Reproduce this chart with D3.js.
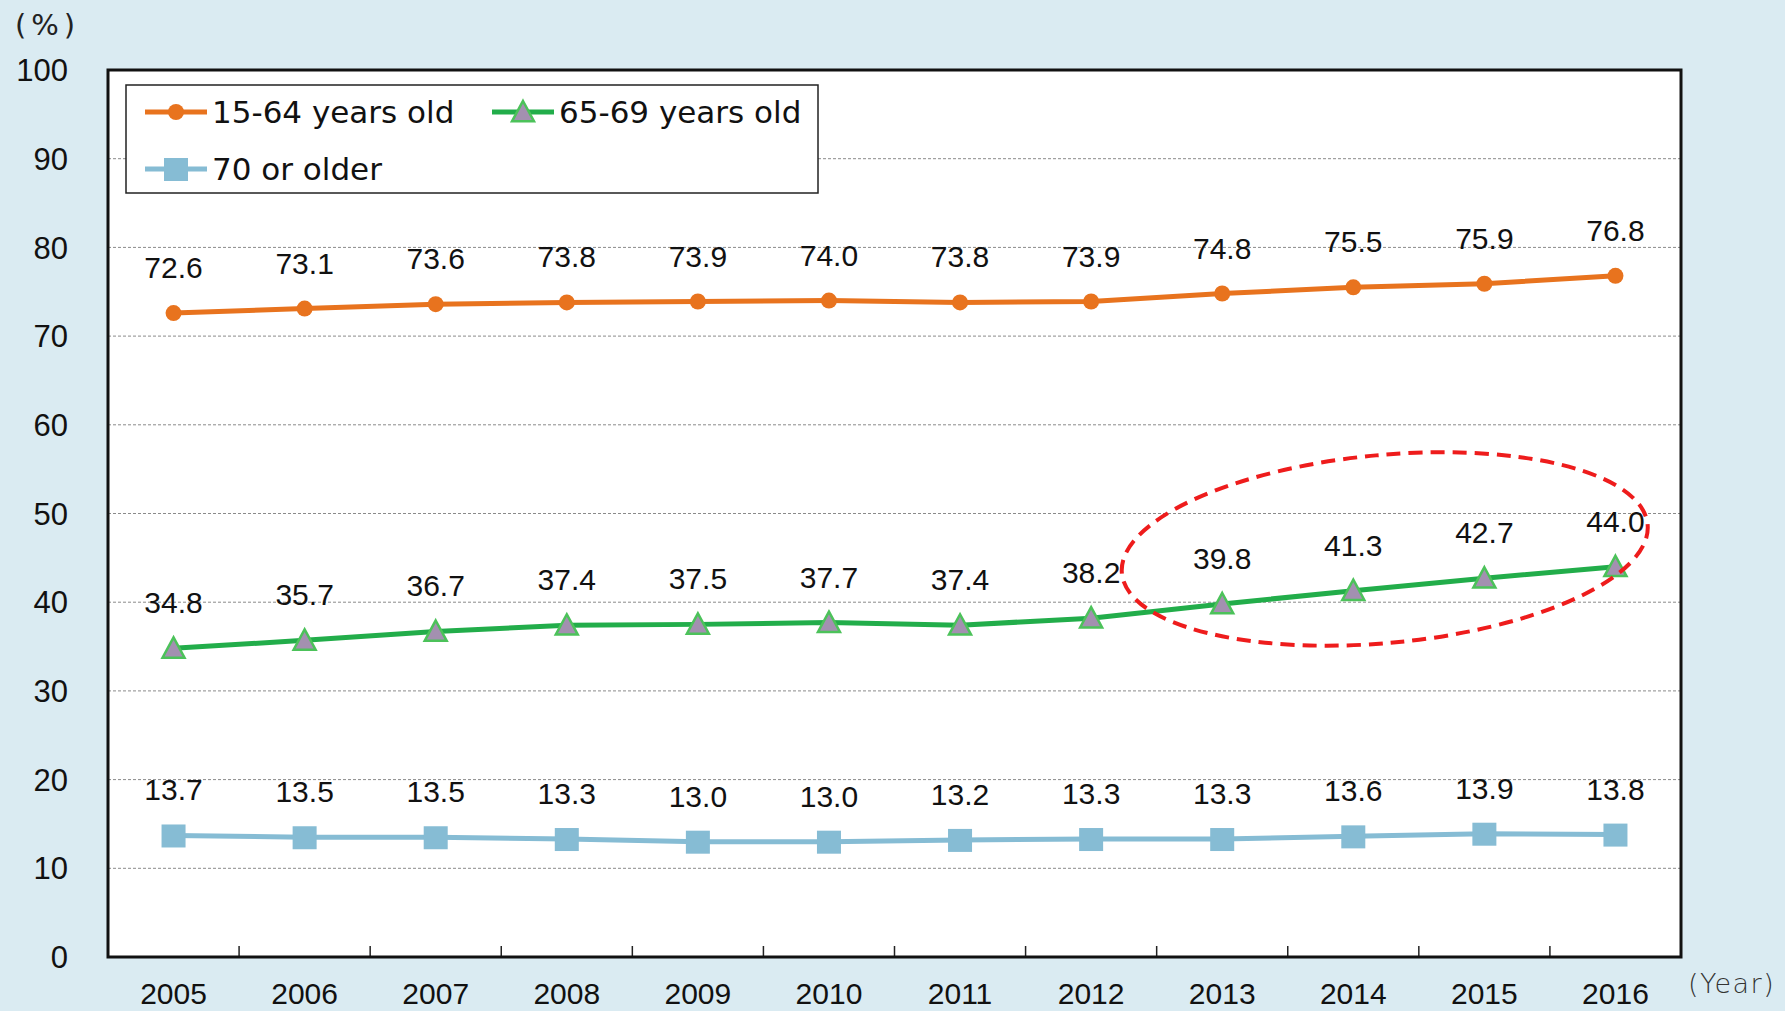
<!DOCTYPE html>
<html>
<head>
<meta charset="utf-8">
<script src="https://cdn.jsdelivr.net/npm/d3@7"></script>
<style>
  body { margin: 0; background: #daebf2; }
  svg { display: block; }
  .tick-lbl { font-family: "Liberation Sans", Arial, sans-serif; fill: #111; }
</style>
</head>
<body>
<div id="chart"></div>
<script>
var svgW = 1785;
var svgH = 1011;

var margin = { left: 108, right: 104, top: 70, bottom: 54 };
var chartW = svgW - margin.left - margin.right;
var chartH = svgH - margin.top - margin.bottom;

// data
var years = ["2005", "2006", "2007", "2008", "2009", "2010", "2011", "2012", "2013", "2014", "2015", "2016"];
var age15to64 = [72.6, 73.1, 73.6, 73.8, 73.9, 74.0, 73.8, 73.9, 74.8, 75.5, 75.9, 76.8];
var age65to69 = [34.8, 35.7, 36.7, 37.4, 37.5, 37.7, 37.4, 38.2, 39.8, 41.3, 42.7, 44.0];
var age70plus = [13.7, 13.5, 13.5, 13.3, 13.0, 13.0, 13.2, 13.3, 13.3, 13.6, 13.9, 13.8];
var yTicks = [0, 10, 20, 30, 40, 50, 60, 70, 80, 90, 100];
var seriesNames = ["15-64 years old", "65-69 years old", "70 or older"];

var series = [
    { name: seriesNames[0], values: age15to64, color: "#e8731e", width: 5, marker: "circle" },
    { name: seriesNames[1], values: age65to69, color: "#22ad4a", width: 5, marker: "triangle" },
    { name: seriesNames[2], values: age70plus, color: "#86bcd4", width: 5, marker: "square" }
];

var svg = d3.select("#chart")
    .append("svg")
    .attr("width", svgW)
    .attr("height", svgH);

svg.append("rect")
    .attr("width", svgW).attr("height", svgH)
    .attr("fill", "#daebf2");

var g = svg.append("g")
    .attr("transform", `translate(${margin.left}, ${margin.top})`);

var xScale = d3.scaleBand()
    .domain(years)
    .range([0, chartW]);

var yScale = d3.scaleLinear()
    .domain([0, 100])
    .range([chartH, 0]);

// plot area
g.append("rect")
    .attr("width", chartW)
    .attr("height", chartH)
    .attr("fill", "#ffffff");

// grid lines
g.selectAll(".grid")
    .data(yTicks.filter(d => d > 0 && d < 100))
    .enter()
    .append("line")
    .attr("class", "grid")
    .attr("x1", 0).attr("x2", chartW)
    .attr("y1", d => yScale(d)).attr("y2", d => yScale(d))
    .attr("stroke", "#8a8a8a")
    .attr("stroke-width", 1)
    .attr("stroke-dasharray", "3,2");

// x ticks at band boundaries, pointing up
g.selectAll(".xtick")
    .data(years.slice(1))
    .enter()
    .append("line")
    .attr("x1", d => xScale(d)).attr("x2", d => xScale(d))
    .attr("y1", chartH).attr("y2", chartH - 11)
    .attr("stroke", "#222")
    .attr("stroke-width", 1.5);

// y labels
g.selectAll(".ylbl")
    .data(yTicks)
    .enter()
    .append("text")
    .attr("class", "tick-lbl")
    .attr("x", -40)
    .attr("y", d => yScale(d))
    .attr("dy", "0.36em")
    .attr("text-anchor", "end")
    .style("font-size", "31px")
    .text(d => d);

// x labels
g.selectAll(".xlbl")
    .data(years)
    .enter()
    .append("text")
    .attr("class", "tick-lbl")
    .attr("x", d => xScale(d) + xScale.bandwidth() / 2)
    .attr("y", chartH + 47)
    .attr("text-anchor", "middle")
    .style("font-size", "30px")
    .text(d => d);

var cx = d => xScale(d) + xScale.bandwidth() / 2;

var line = d3.line()
    .x((d, i) => cx(years[i]))
    .y(d => yScale(d));

function drawMarker(sel, type, x, y, color) {
    if (type === "circle") {
        sel.append("circle")
            .attr("cx", x).attr("cy", y).attr("r", 8)
            .attr("fill", color);
    } else if (type === "triangle") {
        var s = 11;
        sel.append("path")
            .attr("d", `M${x},${y - s} L${x + s},${y + s * 0.85} L${x - s},${y + s * 0.85} Z`)
            .attr("fill", "#a390b0")
            .attr("stroke", "#4cc25a")
            .attr("stroke-width", 2.5);
    } else {
        sel.append("rect")
            .attr("x", x - 12).attr("y", y - 11)
            .attr("width", 24).attr("height", 23)
            .attr("fill", color);
    }
}

series.forEach(s => {
    g.append("path")
        .datum(s.values)
        .attr("d", line)
        .attr("fill", "none")
        .attr("stroke", s.color)
        .attr("stroke-width", s.width);

    var mg = g.append("g");
    s.values.forEach((v, i) => {
        drawMarker(mg, s.marker, cx(years[i]), yScale(v), s.color);
    });

    g.selectAll(null)
        .data(s.values)
        .enter()
        .append("text")
        .attr("class", "tick-lbl")
        .attr("x", (d, i) => cx(years[i]))
        .attr("y", d => yScale(d) - 35)
        .attr("text-anchor", "middle")
        .style("font-size", "30px")
        .text(d => d.toFixed(1));
});

// frame
g.append("rect")
    .attr("width", chartW)
    .attr("height", chartH)
    .attr("fill", "none")
    .attr("stroke", "#111")
    .attr("stroke-width", 3);

// red dashed ellipse highlighting the recent rise
var ex = xScale("2014") + xScale.bandwidth() * 0.74;
var ey = yScale(46);
g.append("ellipse")
    .attr("cx", 0).attr("cy", 0)
    .attr("rx", 264).attr("ry", 94)
    .attr("transform", `translate(${ex}, ${ey}) rotate(-5.3)`)
    .attr("fill", "none")
    .attr("stroke", "#ee1c1c")
    .attr("stroke-width", 4)
    .attr("stroke-dasharray", "14,8");

// legend
var legend = svg.append("g").attr("transform", "translate(126, 85)");
legend.append("rect")
    .attr("width", 692).attr("height", 108)
    .attr("fill", "#ffffff")
    .attr("stroke", "#222")
    .attr("stroke-width", 1.5);

var legendPos = [
    { x: 19, y: 27 },
    { x: 366, y: 27 },
    { x: 19, y: 84 }
];

series.forEach((s, i) => {
    var p = legendPos[i];
    var lg = legend.append("g").attr("transform", `translate(${p.x}, ${p.y})`);
    lg.append("line")
        .attr("x1", 0).attr("x2", 62)
        .attr("y1", 0).attr("y2", 0)
        .attr("stroke", s.color)
        .attr("stroke-width", 5);
    drawMarker(lg, s.marker, 31, 0, s.color);
    lg.append("text")
        .attr("x", 67)
        .attr("y", 0)
        .attr("dy", "0.36em")
        .style("font-family", "'DejaVu Sans', sans-serif")
        .style("font-size", "31px")
        .attr("fill", "#111")
        .text(s.name);
});

// unit labels
svg.append("text")
    .attr("x", 15).attr("y", 25)
    .attr("dy", "0.36em")
    .style("font-family", "'DejaVu Sans', sans-serif")
    .style("font-size", "29px")
    .style("letter-spacing", "5px")
    .attr("fill", "#222")
    .text("(%)");

svg.append("text")
    .attr("x", 1688).attr("y", 983)
    .attr("dy", "0.36em")
    .style("font-family", "'DejaVu Sans', sans-serif")
    .style("font-size", "27px")
    .style("letter-spacing", "1.5px")
    .style("font-weight", "300")
    .attr("fill", "#333")
    .text("(Year)");
</script>
</body>
</html>
